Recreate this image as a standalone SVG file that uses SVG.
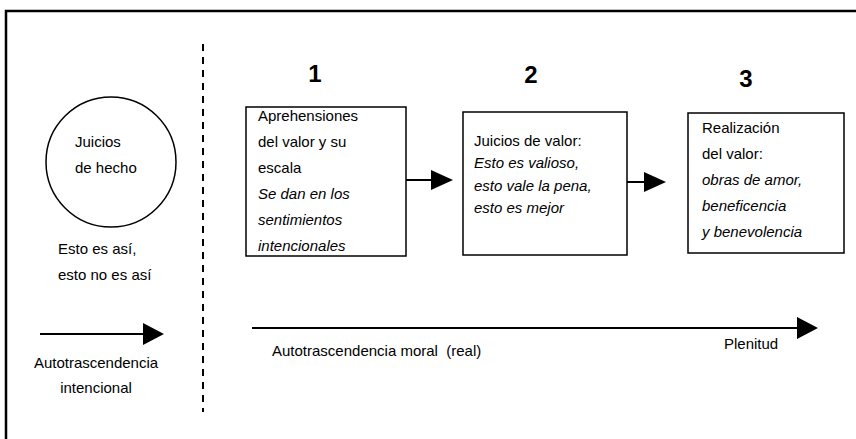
<svg xmlns="http://www.w3.org/2000/svg" width="856" height="439" viewBox="0 0 856 439">
<style>
text{font-family:"Liberation Sans",Arial,sans-serif;font-size:15px;fill:#000}
.it{font-style:italic}
.num{font-size:24px;font-weight:bold;text-anchor:middle}
.box{fill:#fff;stroke:#000;stroke-width:1.5}
.ln{stroke:#000;stroke-width:2;fill:none}
</style>
<rect x="0" y="0" width="856" height="439" fill="#fff"/>
<rect x="6" y="11" width="900" height="500" fill="none" stroke="#000" stroke-width="2.5"/>
<line x1="203" y1="44" x2="203" y2="412" stroke="#000" stroke-width="2" stroke-dasharray="7,6"/>

<g id="connectors">
<line x1="406" y1="180" x2="432" y2="180" class="ln"/>
<path d="M431,170 L453,180 L431,190 Z"/>
<line x1="627" y1="182" x2="645" y2="182" class="ln"/>
<path d="M644,172 L666,182 L644,192 Z"/>
<line x1="40" y1="334" x2="145" y2="334" class="ln"/>
<path d="M143,323 L164,334 L143,345 Z"/>
<line x1="252" y1="328" x2="799" y2="328" class="ln"/>
<path d="M797,317 L818,328 L797,339 Z"/>
</g>

<g id="juicios-hecho">
<circle cx="111" cy="162" r="65" fill="#fff" stroke="#000" stroke-width="1.5"/>
<text x="75" y="147">Juicios</text>
<text x="75" y="173">de hecho</text>
</g>
<g id="esto-es-asi">
<text x="58" y="254">Esto es así,</text>
<text x="58" y="280">esto no es así</text>
</g>
<g id="autotrascendencia-intencional">
<text x="96" y="368" text-anchor="middle">Autotrascendencia</text>
<text x="96" y="393" text-anchor="middle">intencional</text>
</g>

<g id="n1">
<text class="num" x="315" y="82">1</text>
<rect class="box" x="246" y="107" width="160" height="149"/>
<text x="258" y="121">Aprehensiones</text>
<text x="258" y="147">del valor y su</text>
<text x="258" y="173">escala</text>
<text class="it" x="258" y="199">Se dan en los</text>
<text class="it" x="258" y="225">sentimientos</text>
<text class="it" x="258" y="251">intencionales</text>
</g>

<g id="n2">
<text class="num" x="531" y="83">2</text>
<rect class="box" x="463" y="112" width="164" height="143"/>
<text x="474" y="146">Juicios de valor:</text>
<text class="it" x="474" y="168">Esto es valioso,</text>
<text class="it" x="474" y="191">esto vale la pena,</text>
<text class="it" x="474" y="213">esto es mejor</text>
</g>

<g id="n3">
<text class="num" x="746" y="87">3</text>
<rect class="box" x="688" y="113" width="156" height="140"/>
<text x="702" y="133">Realización</text>
<text x="702" y="159">del valor:</text>
<text class="it" x="702" y="185">obras de amor,</text>
<text class="it" x="702" y="211">beneficencia</text>
<text class="it" x="702" y="237">y benevolencia</text>
</g>

<g id="labels">
<text x="272" y="356">Autotrascendencia moral&#160; (real)</text>
<text x="724" y="349">Plenitud</text>
</g>
</svg>
